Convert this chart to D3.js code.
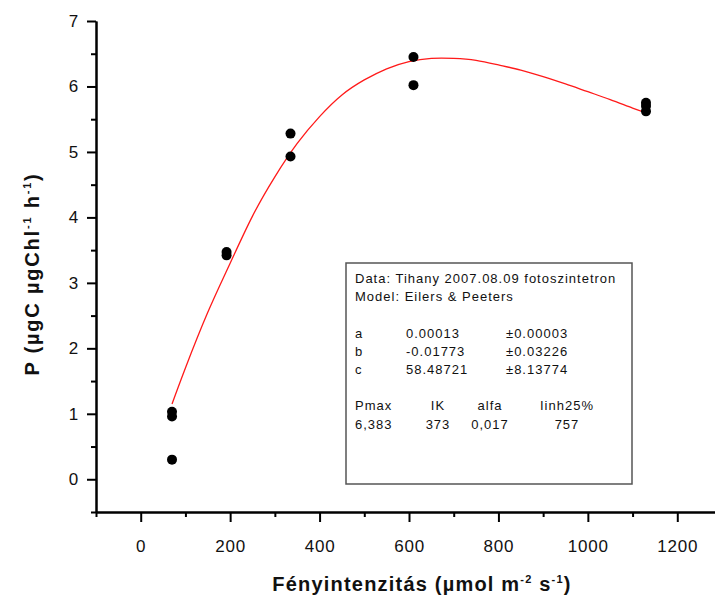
<!DOCTYPE html>
<html>
<head>
<meta charset="utf-8">
<script src="https://cdn.jsdelivr.net/npm/d3@7"></script>
<style>
  html, body { margin: 0; padding: 0; background: #fff; }
  svg { display: block; }
  text { font-family: "Liberation Sans", Arial, sans-serif; }
</style>
</head>
<body>
<svg id="chart" width="715" height="599"></svg>
<script>
// ---- Data ----
const pointX = [70, 70, 70, 192, 192, 335, 335, 610, 610, 1130, 1130, 1130];
const pointY = [1.03, 0.96, 0.30, 3.47, 3.42, 5.28, 4.93, 6.45, 6.02, 5.75, 5.70, 5.62];

const curveX = [70, 100, 150, 200, 250, 300, 350, 400, 450, 500, 550, 600, 650, 700, 750, 800, 850, 900, 950, 1000, 1050, 1100, 1130];
const curveY = [1.15, 1.70, 2.55, 3.30, 4.02, 4.62, 5.13, 5.54, 5.87, 6.10, 6.27, 6.38, 6.43, 6.43, 6.40, 6.33, 6.25, 6.15, 6.04, 5.92, 5.80, 5.67, 5.60];

const xMajorTicks = [0, 200, 400, 600, 800, 1000, 1200];
const xMinorTicks = [-100, 100, 300, 500, 700, 900, 1100, 1300];
const yMajorTicks = [0, 1, 2, 3, 4, 5, 6, 7];
const yMinorTicks = [-0.5, 0.5, 1.5, 2.5, 3.5, 4.5, 5.5, 6.5];

const infoHeader = ["Data: Tihany 2007.08.09 fotoszintetron", "Model: Eilers & Peeters"];
const paramNames = ["a", "b", "c"];
const paramValues = ["0.00013", "-0.01773", "58.48721"];
const paramErrors = ["\u00b10.00003", "\u00b10.03226", "\u00b18.13774"];
const statNames = ["Pmax", "IK", "alfa", "Iinh25%"];
const statValues = ["6,383", "373", "0,017", "757"];

// ---- Layout ----
const svg = d3.select("#chart");
const x = d3.scaleLinear().domain([-100, 1300]).range([96, 722]);
const y = d3.scaleLinear().domain([-0.5, 7]).range([512, 21]);

function styleAxis(g) {
  g.selectAll("path.domain").attr("stroke", "#000").attr("stroke-width", 2);
  g.selectAll(".tick line").attr("stroke", "#000").attr("stroke-width", 2);
  g.selectAll(".tick text").attr("fill", "#111")
    .style("font-family", "'Liberation Sans', Arial, sans-serif")
    .style("font-size", "17px").style("letter-spacing", "0.8px");
}

// x minor
svg.append("g")
  .attr("transform", `translate(0,${y(-0.5)})`)
  .call(d3.axisBottom(x).tickValues(xMinorTicks).tickSize(5).tickSizeOuter(0).tickFormat(""))
  .call(styleAxis);
// x major
svg.append("g")
  .attr("transform", `translate(0,${y(-0.5)})`)
  .call(d3.axisBottom(x).tickValues(xMajorTicks).tickSize(10).tickSizeOuter(0).tickPadding(18).tickFormat(d3.format("d")))
  .call(styleAxis);

// y minor
svg.append("g")
  .attr("transform", `translate(${x(-100)},0)`)
  .call(d3.axisLeft(y).tickValues(yMinorTicks).tickSize(5).tickSizeOuter(0).tickFormat(""))
  .call(styleAxis);
// y major
svg.append("g")
  .attr("transform", `translate(${x(-100)},0)`)
  .call(d3.axisLeft(y).tickValues(yMajorTicks).tickSize(9).tickSizeOuter(0).tickPadding(8).tickFormat(d3.format("d")))
  .call(styleAxis);

// Fitted curve
const curveData = curveX.map((v, i) => [v, curveY[i]]);
svg.append("path")
  .datum(curveData)
  .attr("fill", "none")
  .attr("stroke", "#ff1a1a")
  .attr("stroke-width", 1.3)
  .attr("d", d3.line().x(d => x(d[0])).y(d => y(d[1])).curve(d3.curveNatural));

// Points
const pts = pointX.map((v, i) => [v, pointY[i]]);
svg.append("g").selectAll("circle")
  .data(pts).join("circle")
  .attr("cx", d => x(d[0]))
  .attr("cy", d => y(d[1]))
  .attr("r", 5)
  .attr("fill", "#000");

// Info box
const box = svg.append("g");
box.append("rect")
  .attr("x", 346).attr("y", 263).attr("width", 286).attr("height", 221)
  .attr("fill", "#fff").attr("stroke", "#555").attr("stroke-width", 1.5);

const fs = "13px";
const ls = "1px";
const lh = 18;
const x0 = 355;
function t(xp, yp, str, anchor) {
  return box.append("text").attr("x", xp).attr("y", yp).text(str)
    .attr("text-anchor", anchor || "start")
    .style("font-size", fs).style("letter-spacing", ls).attr("fill", "#111");
}
infoHeader.forEach((s, i) => t(x0, 283 + i * lh, s));
paramNames.forEach((n, i) => {
  const yp = 338 + i * lh;
  t(x0, yp, n);
  t(406, yp, paramValues[i]);
  t(506, yp, paramErrors[i]);
});
const statPos = [355, 438, 490, 567];
const statAnchor = ["start", "middle", "middle", "middle"];
statNames.forEach((n, i) => {
  t(statPos[i], 410, n, statAnchor[i]);
  t(statPos[i], 429, statValues[i], statAnchor[i]);
});

// Axis titles
const xt = svg.append("text")
  .attr("x", 422).attr("y", 591)
  .attr("text-anchor", "middle")
  .style("font-size", "20px").style("font-weight", "bold").style("letter-spacing", "1.2px").attr("fill", "#111");
xt.append("tspan").text("Fényintenzitás (µmol m");
xt.append("tspan").text("-2").attr("dy", -8).style("font-size", "11px");
xt.append("tspan").text(" s").attr("dy", 8);
xt.append("tspan").text("-1").attr("dy", -8).style("font-size", "11px");
xt.append("tspan").text(")").attr("dy", 8);

const yt = svg.append("text")
  .attr("transform", "translate(39,274) rotate(-90)")
  .attr("text-anchor", "middle")
  .style("font-size", "20px").style("font-weight", "bold").style("letter-spacing", "1.8px").attr("fill", "#111");
yt.append("tspan").text("P (µgC µgChl");
yt.append("tspan").text("-1").attr("dy", -8).style("font-size", "11px");
yt.append("tspan").text(" h").attr("dy", 8);
yt.append("tspan").text("-1").attr("dy", -8).style("font-size", "11px");
yt.append("tspan").text(")").attr("dy", 8);
</script>
</body>
</html>
